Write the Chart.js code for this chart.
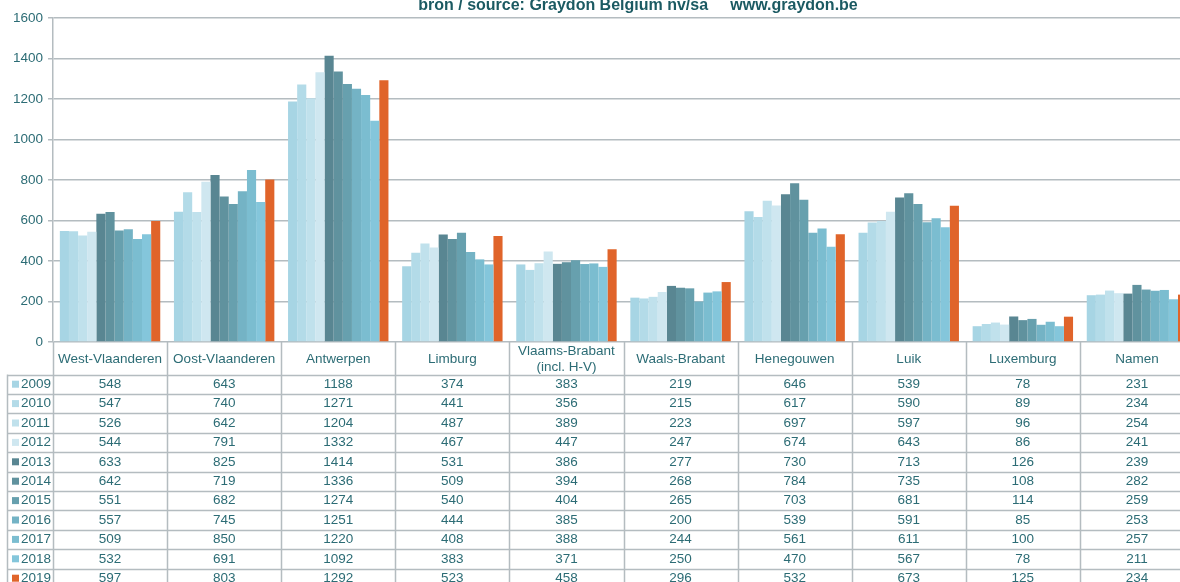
<!DOCTYPE html>
<html>
<head>
<meta charset="utf-8">
<script src="https://cdn.jsdelivr.net/npm/chart.js@4.4.1/dist/chart.umd.min.js"></script>
<style>
  html, body { margin: 0; padding: 0; background: #fff; overflow: hidden; }
  #wrap { width: 1180px; height: 582px; overflow: hidden; }
</style>
</head>
<body>
<div id="wrap"><canvas id="chart" width="1195" height="582"></canvas></div>
<script>
// Provinces (columns) and years (series)
const categories = [
  "West-Vlaanderen", "Oost-Vlaanderen", "Antwerpen", "Limburg",
  ["Vlaams-Brabant", "(incl. H-V)"], "Waals-Brabant", "Henegouwen",
  "Luik", "Luxemburg", "Namen"
];
const years = ["2009", "2010", "2011", "2012", "2013", "2014", "2015", "2016", "2017", "2018", "2019"];

const v2009 = [548, 643, 1188, 374, 383, 219, 646, 539, 78, 231];
const v2010 = [547, 740, 1271, 441, 356, 215, 617, 590, 89, 234];
const v2011 = [526, 642, 1204, 487, 389, 223, 697, 597, 96, 254];
const v2012 = [544, 791, 1332, 467, 447, 247, 674, 643, 86, 241];
const v2013 = [633, 825, 1414, 531, 386, 277, 730, 713, 126, 239];
const v2014 = [642, 719, 1336, 509, 394, 268, 784, 735, 108, 282];
const v2015 = [551, 682, 1274, 540, 404, 265, 703, 681, 114, 259];
const v2016 = [557, 745, 1251, 444, 385, 200, 539, 591, 85, 253];
const v2017 = [509, 850, 1220, 408, 388, 244, 561, 611, 100, 257];
const v2018 = [532, 691, 1092, 383, 371, 250, 470, 567, 78, 211];
const v2019 = [597, 803, 1292, 523, 458, 296, 532, 673, 125, 234];

const yTicks = [0, 200, 400, 600, 800, 1000, 1200, 1400, 1600];

const seriesValues = [v2009, v2010, v2011, v2012, v2013, v2014, v2015, v2016, v2017, v2018, v2019];
const colors = [
  "#a7d5e4", "#b3dbe8", "#c0e1ec", "#cfe7f0",
  "#598692", "#60929e", "#67a0ae", "#74b3c5",
  "#7bbdd0", "#84c6db", "#e0642a"
];

const TEXT = "#2c6c75";
const LINE = "#b4bcc0";
const FONT = "Liberation Sans, Arial, sans-serif";
const SIZE = 13.5;

// Draws the source line at the top and the data table under the plot
const tablePlugin = {
  id: "dataTable",
  afterDraw(chart) {
    const ctx = chart.ctx;
    const area = chart.chartArea;
    const xScale = chart.scales.x;
    const colW = (area.right - area.left) / categories.length;
    const headerBottom = 374.5;
    const rowH = 19.4;
    const tableBottom = headerBottom + rowH * years.length;
    const legendLeft = 7;

    ctx.save();

    // title
    ctx.fillStyle = "#1b5a62";
    ctx.font = "bold 16px " + FONT;
    ctx.textAlign = "center";
    ctx.textBaseline = "alphabetic";
    ctx.fillText("bron / source: Graydon Belgium nv/sa     www.graydon.be", 638, 10);

    // grid lines of the table
    ctx.strokeStyle = LINE;
    ctx.lineWidth = 1.5;
    ctx.beginPath();
    for (let i = 0; i <= categories.length; i++) {
      const x = Math.round(area.left + i * colW) + 0.5;
      ctx.moveTo(x, area.bottom);
      ctx.lineTo(x, tableBottom);
    }
    ctx.moveTo(legendLeft + 0.5, headerBottom);
    ctx.lineTo(legendLeft + 0.5, tableBottom);
    for (let r = 0; r <= years.length; r++) {
      const y = Math.round(headerBottom + r * rowH) + 0.5;
      ctx.moveTo(legendLeft, y);
      ctx.lineTo(area.right, y);
    }
    ctx.stroke();

    // header labels
    ctx.textBaseline = "middle";
    ctx.fillStyle = TEXT;
    ctx.font = SIZE + "px " + FONT;
    ctx.textAlign = "center";
    categories.forEach((label, i) => {
      const cx = xScale.getPixelForValue(i);
      const lines = Array.isArray(label) ? label : [label];
      const midY = (area.bottom + headerBottom) / 2 + 1;
      lines.forEach((line, k) => {
        const y = midY + (k - (lines.length - 1) / 2) * 16;
        ctx.fillText(line, cx, y);
      });
    });

    // data rows
    years.forEach((year, r) => {
      const cy = headerBottom + r * rowH + rowH / 2;
      ctx.fillStyle = colors[r];
      ctx.fillRect(legendLeft + 5, cy - 3.5, 7, 7);
      ctx.fillStyle = TEXT;
      ctx.textAlign = "left";
      ctx.fillText(year, legendLeft + 14, cy);
      ctx.textAlign = "center";
      seriesValues[r].forEach((val, i) => {
        ctx.fillText(String(val), xScale.getPixelForValue(i), cy);
      });
    });

    ctx.restore();
  }
};

new Chart(document.getElementById("chart"), {
  type: "bar",
  data: {
    labels: categories,
    datasets: years.map((year, i) => ({
      label: year,
      data: seriesValues[i],
      backgroundColor: colors[i],
      borderWidth: 0,
      categoryPercentage: 0.88,
      barPercentage: 1.0
    }))
  },
  options: {
    responsive: false,
    animation: false,
    devicePixelRatio: 1,
    layout: { padding: { top: 18, right: 1, bottom: 240, left: 0 } },
    plugins: {
      legend: { display: false },
      tooltip: { enabled: false },
      title: { display: false }
    },
    scales: {
      x: { display: false },
      y: {
        min: 0,
        max: 1600,
        afterFit: (scale) => { scale.width = 53; },
        afterBuildTicks: (scale) => { scale.ticks = yTicks.map((v) => ({ value: v })); },
        ticks: {
          color: TEXT,
          padding: 5,
          font: { family: FONT, size: SIZE },
          callback: (value) => String(value)
        },
        grid: { color: LINE, lineWidth: 1.5, tickLength: 5 },
        border: { color: LINE, width: 1.5 }
      }
    }
  },
  plugins: [tablePlugin]
});
</script>
</body>
</html>
